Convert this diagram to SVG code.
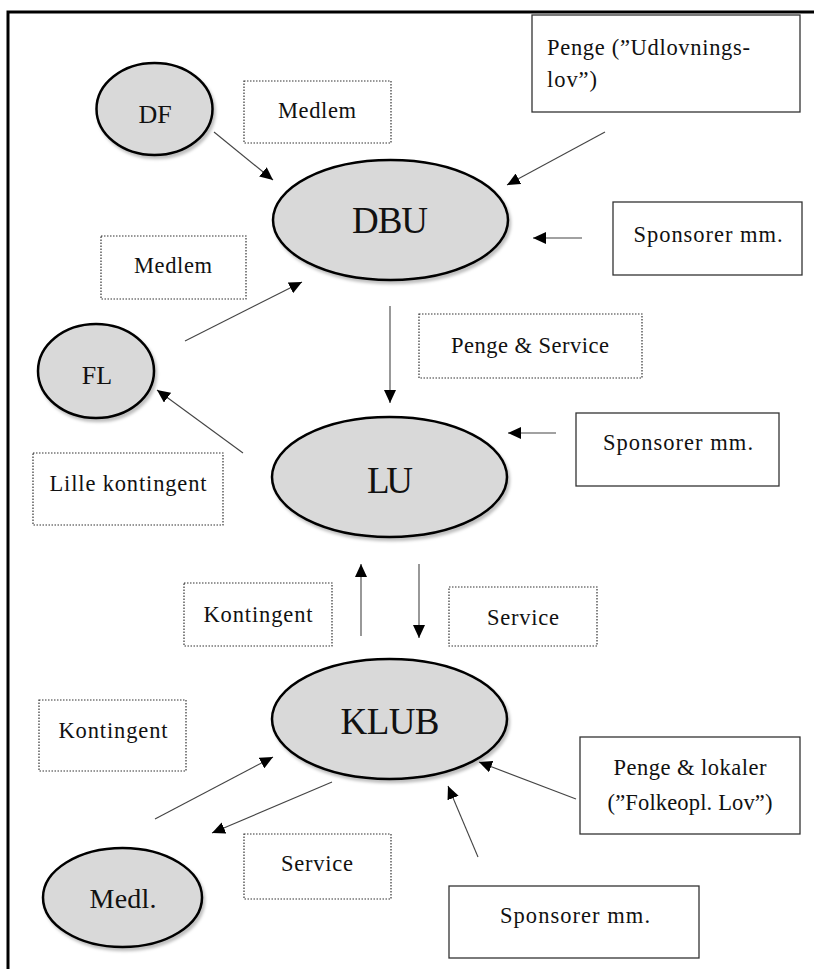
<svg xmlns="http://www.w3.org/2000/svg" width="814" height="969" viewBox="0 0 814 969">
<style>
.node ellipse{fill:#d9d9d9;stroke:#000;stroke-width:2.5}
.solid{fill:#fff;stroke:#333;stroke-width:1.3}
.dot{fill:#fff;stroke:#333;stroke-width:1.2;stroke-dasharray:1.5 1.5}
text{font-family:"Liberation Serif","DejaVu Serif",serif;fill:#111;font-size:22.5px}
.mid{text-anchor:middle}
.big{font-size:37px}
.med{font-size:26px}
.conn line{stroke:#444;stroke-width:1.1;marker-end:url(#ah)}
</style>
<defs>
<marker id="ah" markerUnits="userSpaceOnUse" markerWidth="14" markerHeight="12" refX="13" refY="6" orient="auto">
<path d="M0,0 L13,6 L0,12 Z" fill="#000"/>
</marker>
<filter id="sh" x="-10%" y="-10%" width="130%" height="130%">
<feDropShadow dx="2" dy="3" stdDeviation="1.5" flood-color="#000" flood-opacity="0.25"/>
</filter>
</defs>
<rect width="814" height="969" fill="#fff"/>
<path d="M8,969 V12 H814" fill="none" stroke="#000" stroke-width="3"/>

<g class="conn">
<line x1="214" y1="132" x2="273" y2="180"/>
<line x1="605" y1="132" x2="507" y2="185"/>
<line x1="582" y1="238" x2="533" y2="238"/>
<line x1="185" y1="341" x2="302" y2="282"/>
<line x1="390" y1="306" x2="390" y2="403"/>
<line x1="243" y1="453" x2="157" y2="390"/>
<line x1="556" y1="433" x2="508" y2="433"/>
<line x1="361" y1="636" x2="361" y2="564"/>
<line x1="419" y1="564" x2="419" y2="638"/>
<line x1="155" y1="819" x2="273" y2="757"/>
<line x1="332" y1="782" x2="212" y2="833"/>
<line x1="576" y1="799" x2="479" y2="762"/>
<line x1="478" y1="857" x2="448" y2="786"/>
</g>

<g id="DF" class="node"><ellipse cx="154.5" cy="109" rx="58" ry="46" filter="url(#sh)"/><text class="mid med" x="155" y="123">DF</text></g>
<g id="DBU" class="node"><ellipse cx="390.5" cy="220" rx="117.5" ry="60" filter="url(#sh)"/><text class="mid big" x="390" y="233" textLength="76">DBU</text></g>
<g id="FL" class="node"><ellipse cx="96" cy="371" rx="58" ry="47" filter="url(#sh)"/><text class="mid med" x="97" y="384">FL</text></g>
<g id="LU" class="node"><ellipse cx="389.5" cy="477" rx="117.5" ry="60" filter="url(#sh)"/><text class="mid big" x="390" y="493" textLength="46">LU</text></g>
<g id="KLUB" class="node"><ellipse cx="389.5" cy="719" rx="117.5" ry="60" filter="url(#sh)"/><text class="mid big" x="390" y="734" textLength="99">KLUB</text></g>
<g id="Medl" class="node"><ellipse cx="122.5" cy="897.5" rx="79.5" ry="49.5" filter="url(#sh)"/><text class="mid" style="font-size:28px" x="123" y="908" textLength="67">Medl.</text></g>

<g id="penge-udlovning"><rect class="solid" x="532" y="15" width="268" height="97"/><text x="547" y="55" textLength="203">Penge (”Udlovnings-</text><text x="547" y="87" textLength="50">lov”)</text></g>
<g id="sponsor-dbu"><rect class="solid" x="613" y="202" width="189" height="73"/><text class="mid" x="708" y="242" textLength="149">Sponsorer mm.</text></g>
<g id="medlem-df"><rect class="dot" x="244" y="81" width="147" height="62"/><text class="mid" x="317" y="118" textLength="78">Medlem</text></g>
<g id="medlem-fl"><rect class="dot" x="101" y="236" width="145" height="63"/><text class="mid" x="173" y="273" textLength="78">Medlem</text></g>
<g id="penge-service"><rect class="dot" x="419" y="314" width="223" height="64"/><text class="mid" x="530" y="353" textLength="158">Penge &amp; Service</text></g>
<g id="sponsor-lu"><rect class="solid" x="576" y="413" width="203" height="73"/><text class="mid" x="678" y="450" textLength="150">Sponsorer mm.</text></g>
<g id="lille-kontingent"><rect class="dot" x="33" y="453" width="190" height="72"/><text class="mid" x="128" y="491" textLength="157">Lille kontingent</text></g>
<g id="kontingent-lu"><rect class="dot" x="184" y="583" width="148" height="63"/><text class="mid" x="258" y="622" textLength="109">Kontingent</text></g>
<g id="service-lu"><rect class="dot" x="449" y="587" width="148" height="59"/><text class="mid" x="523" y="625" textLength="72">Service</text></g>
<g id="kontingent-klub"><rect class="dot" x="39" y="700" width="147" height="71"/><text class="mid" x="113" y="738" textLength="109">Kontingent</text></g>
<g id="service-klub"><rect class="dot" x="244" y="834" width="147" height="65"/><text class="mid" x="317" y="871" textLength="72">Service</text></g>
<g id="penge-lokaler"><rect class="solid" x="580" y="737" width="220" height="97"/><text class="mid" x="690" y="775" textLength="153">Penge &amp; lokaler</text><text class="mid" x="690" y="810" textLength="165">(”Folkeopl. Lov”)</text></g>
<g id="sponsor-klub"><rect class="solid" x="449" y="886" width="250" height="72"/><text class="mid" x="575" y="923" textLength="150">Sponsorer mm.</text></g>
</svg>
